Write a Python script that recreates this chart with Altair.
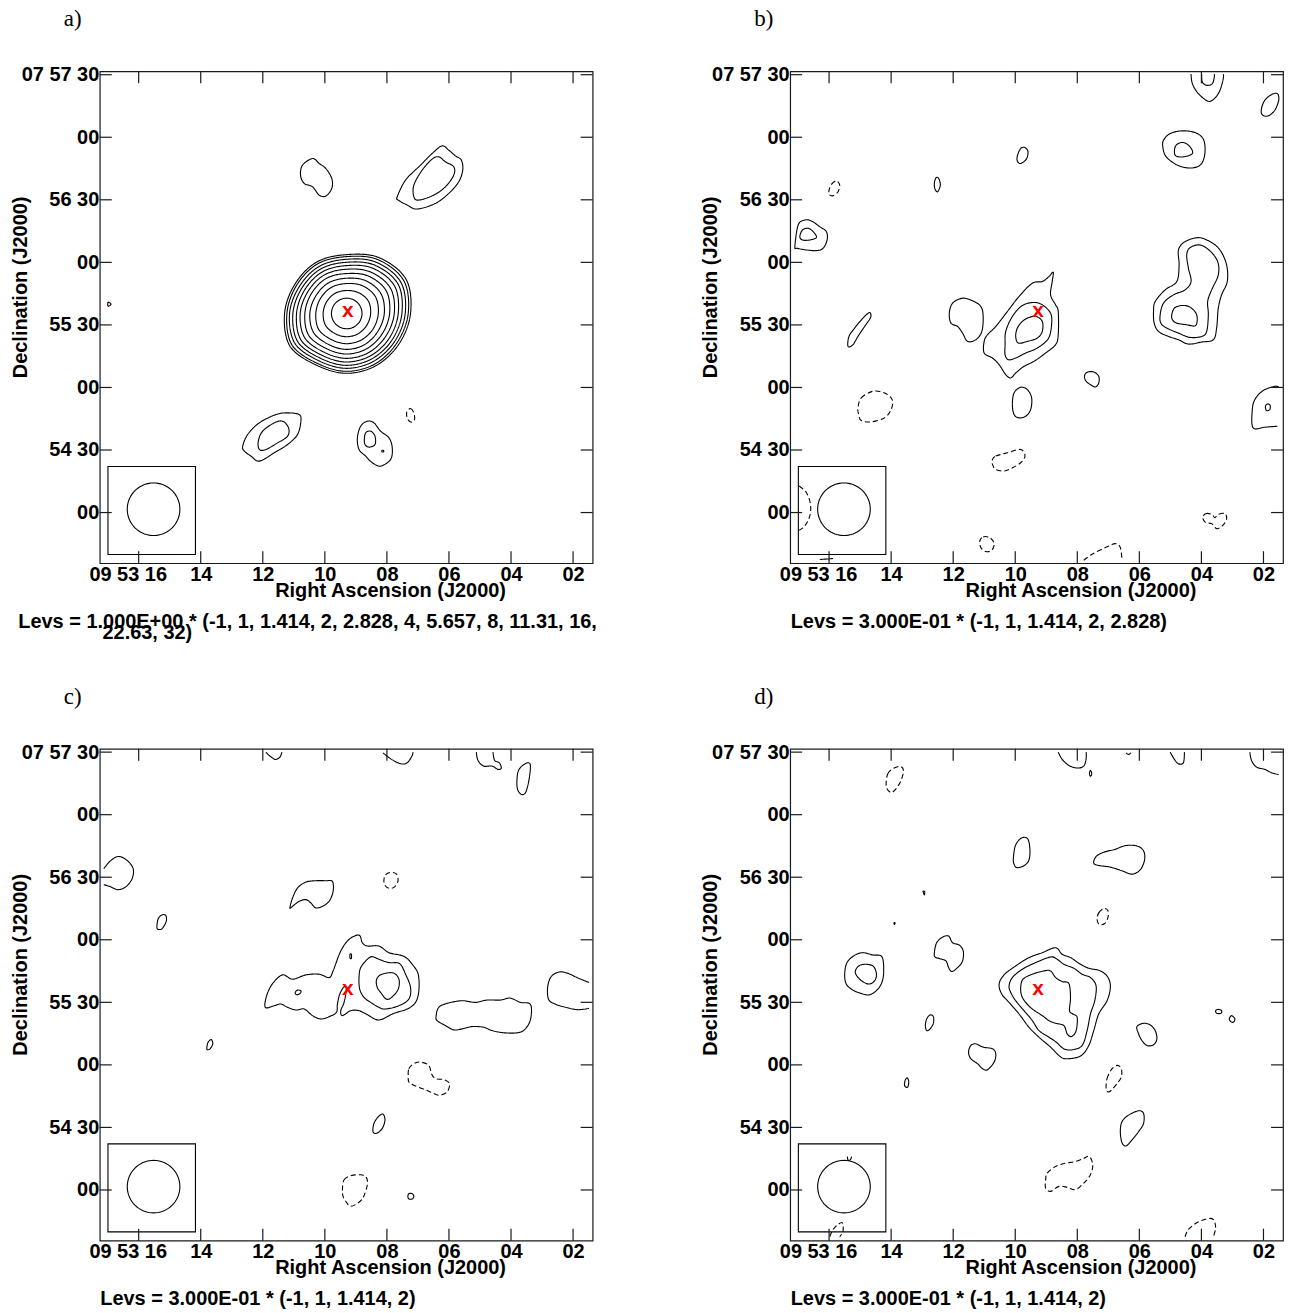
import altair as alt
import numpy as np
import pandas as pd

W, H = 494, 493
FONT = "Liberation Sans"

RA_TICKS = [16, 14, 12, 10, 8, 6, 4, 2]
RA_LABELS = ["09 53 16", "14", "12", "10", "08", "06", "04", "02"]
DEC_TICKS = [3450, 3420, 3390, 3360, 3330, 3300, 3270, 3240]
DEC_LABELS = ["07 57 30", "00", "56 30", "00", "55 30", "00", "54 30", "00"]
RA_DOMAIN = [17.254, 1.370]      # seconds of RA (09 53 xx), east to the left
DEC_DOMAIN = [3215.7, 3451.6]    # arcsec of Dec (07 xx xx)

PANELS = ["a", "b", "c", "d"]
TITLES = {"a": "a)", "b": "b)", "c": "c)", "d": "d)"}
LEVS = {
    "a": ["Levs = 1.000E+00 * (-1, 1, 1.414, 2, 2.828, 4, 5.657, 8, 11.31, 16,", "22.63, 32)"],
    "b": ["Levs = 3.000E-01 * (-1, 1, 1.414, 2, 2.828)"],
    "c": ["Levs = 3.000E-01 * (-1, 1, 1.414, 2)"],
    "d": ["Levs = 3.000E-01 * (-1, 1, 1.414, 2)"],
}
LEVS_X = {"a": [-81.7, 2.7], "b": [0.5], "c": [0.5], "d": [0.5]}

SOURCE_RA = [9.26]
SOURCE_DEC = [3336.0]

BEAM_RA, BEAM_DEC, BEAM_RADIUS = 15.52, 3241.6, 12.6   # beam centre, radius (arcsec)
BOX_RA = [16.99, 14.17]
BOX_DEC = [3219.9, 3262.1]

# map grid of each panel: (column at RA 16s, row at Dec 57'30", cells per RA second, cells per arcsec)
GRID = {"a": (127, 18, 93.36, 6.27), "b": (128, 18, 93.43, 6.27),
        "c": (127, 20, 93.36, 6.29), "d": (128, 20, 93.43, 6.29)}

# ---- contour paths in map cells (column, row) ----
A_CONTOURS = [
    ("pos", "closed", [(620,290),(650,270),(670,285),(690,300),(708,330),(708,360),(690,383),(670,380),(650,355),(625,345),(614,320)]),
    ("pos", "closed", [(905,385),(930,335),(975,290),(1010,255),(1040,232),(1060,245),(1080,262),(1098,275),(1102,305),(1090,340),(1060,375),(1020,405),(965,422),(935,410),(908,395)]),
    ("pos", "closed", [(955,350),(980,305),(1010,272),(1030,265),(1050,280),(1075,295),(1075,320),(1050,355),(1015,380),(970,395),(955,385)]),
    ("pos", "closed", [(440,1135),(455,1100),(490,1065),(540,1040),(575,1035),(610,1040),(615,1060),(605,1100),(575,1130),(535,1155),(490,1180),(465,1165),(445,1150)]),
    ("pos", "closed", [(487,1120),(500,1090),(535,1065),(560,1060),(578,1080),(575,1105),(545,1125),(510,1145),(490,1145)]),
    ("pos", "closed", [(785,1110),(795,1075),(815,1060),(835,1065),(855,1090),(880,1110),(890,1140),(885,1175),(855,1195),(830,1185),(810,1165),(790,1145)]),
    ("pos", "closed", [(806,1115),(810,1095),(825,1090),(838,1105),(838,1130),(820,1138),(808,1130)]),
    ("pos", "closed", [(859,1148),(864,1148),(864,1152),(859,1152)]),
    ("neg", "closed", [(935,1030),(945,1022),(955,1035),(957,1055),(948,1063),(937,1055),(933,1040)]),
    ("pos", "closed", [(35,702),(44,708),(35,714)]),
]
# nested rings of the bright source in panel a: radii (cells) at 0,30,...,330 deg
A_RING_CENTER = (753, 736)
A_RING_RADII = [
    [46, 46, 46, 46, 46, 46, 46, 46, 46, 46, 46, 46],
    [72, 75, 72, 69, 70, 70, 71, 73, 70, 70, 70, 70],
    [95, 100, 96, 90, 91, 91, 93, 97, 91, 91, 91, 92],
    [113, 119, 114, 106, 107, 107, 111, 115, 108, 108, 108, 108],
    [129, 137, 130, 120, 122, 122, 126, 132, 122, 122, 122, 123],
    [143, 152, 144, 133, 134, 134, 140, 146, 135, 135, 135, 136],
    [155, 166, 157, 144, 145, 145, 151, 159, 146, 146, 146, 148],
    [166, 178, 168, 154, 155, 155, 162, 170, 156, 156, 156, 158],
    [176, 188, 178, 163, 164, 164, 172, 180, 165, 165, 165, 167],
    [185, 198, 187, 171, 173, 173, 180, 190, 174, 174, 174, 175],
    [192, 206, 194, 177, 179, 179, 187, 197, 180, 180, 180, 182],
]
RING_ANGLES = [0, 30, 60, 90, 120, 150, 180, 210, 240, 270, 300, 330]

B_CONTOURS = [
    ("pos", "open", [(1218,16),(1222,45),(1240,75),(1270,98),(1290,88),(1305,65),(1315,30),(1315,16)]),
    ("pos", "open", [(1250,16),(1252,40),(1265,50),(1282,45),(1288,25),(1288,16)]),
    ("pos", "closed", [(1430,120),(1440,95),(1460,78),(1478,75),(1482,95),(1470,125),(1450,142),(1432,138)]),
    ("pos", "closed", [(1135,215),(1155,195),(1190,187),(1230,192),(1255,212),(1260,250),(1250,285),(1225,298),(1190,295),(1160,280),(1140,260),(1133,235)]),
    ("pos", "closed", [(1168,245),(1175,228),(1195,222),(1215,235),(1222,255),(1195,265),(1172,262)]),
    ("pos", "closed", [(695,262),(705,240),(718,237),(727,250),(722,272),(705,285),(695,278)]),
    ("pos", "closed", [(445,345),(450,328),(458,330),(463,350),(455,370),(447,362)]),
    ("neg", "closed", [(128,365),(135,348),(150,337),(160,350),(155,370),(140,382),(128,378)]),
    ("pos", "closed", [(25,535),(35,470),(55,455),(75,458),(100,475),(120,490),(122,515),(110,540),(90,547),(60,545),(32,540)]),
    ("pos", "closed", [(40,505),(48,485),(65,480),(80,490),(90,507),(70,515),(48,515)]),
    ("pos", "closed", [(185,835),(188,805),(205,780),(230,750),(250,733),(253,748),(235,775),(215,805),(200,830)]),
    ("pos", "closed", [(490,735),(500,705),(530,690),(560,698),(585,715),(592,745),(588,790),(570,815),(545,820),(530,795),(515,775),(495,765)]),
    ("pos", "closed", [(595,820),(605,800),(630,775),(665,730),(700,685),(740,645),(770,640),(790,625),(803,612),(800,640),(795,680),(810,710),(818,730),(818,800),(810,830),(780,855),(745,880),(715,895),(690,915),(675,930),(660,920),(640,890),(620,870),(595,855)]),
    ("pos", "closed", [(658,830),(660,790),(680,745),(710,712),(745,703),(770,710),(795,735),(798,770),(788,812),(755,840),(720,855),(690,870),(668,875),(658,860)]),
    ("pos", "closed", [(690,805),(695,780),(710,760),(730,748),(752,745),(770,760),(770,790),(755,810),(725,820),(698,825)]),
    ("pos", "closed", [(897,925),(905,913),(925,912),(940,925),(940,945),(930,957),(915,950),(902,940)]),
    ("pos", "closed", [(680,1010),(685,975),(705,958),(725,965),(738,990),(735,1025),(720,1045),(700,1050),(685,1040)]),
    ("pos", "closed", [(1105,730),(1110,700),(1140,665),(1175,640),(1182,590),(1180,545),(1200,520),(1240,508),(1275,520),(1305,545),(1325,590),(1327,640),(1310,680),(1300,720),(1295,780),(1285,815),(1250,822),(1210,828),(1180,815),(1150,805),(1120,790),(1107,765)]),
    ("pos", "closed", [(1125,740),(1135,705),(1165,680),(1200,665),(1218,640),(1210,600),(1205,560),(1215,538),(1245,530),(1275,548),(1298,580),(1300,620),(1280,665),(1268,700),(1270,740),(1265,790),(1250,805),(1215,808),(1180,795),(1145,780),(1127,765)]),
    ("pos", "closed", [(1160,740),(1168,720),(1190,712),(1215,717),(1235,740),(1232,772),(1205,770),(1175,765),(1162,755)]),
    ("pos", "open", [(1482,958),(1470,955),(1435,968),(1410,995),(1402,1030),(1405,1080),(1440,1078),(1478,1075)]),
    ("pos", "closed", [(1442,1015),(1448,1008),(1456,1012),(1455,1025),(1445,1028)]),
    ("neg", "closed", [(215,1020),(225,990),(260,970),(295,975),(318,995),(315,1025),(295,1050),(255,1062),(225,1058),(217,1040)]),
    ("neg", "closed", [(620,1175),(630,1165),(665,1155),(705,1145),(718,1165),(705,1185),(680,1200),(655,1210),(630,1205),(620,1190)]),
    ("neg", "open", [(38,1255),(60,1275),(72,1310),(70,1345),(55,1375),(38,1388)]),
    ("neg", "closed", [(582,1420),(592,1408),(612,1410),(625,1428),(618,1448),(600,1452),(585,1440)]),
    ("neg", "open", [(895,1478),(920,1460),(960,1440),(990,1428),(1005,1440),(1010,1478)]),
    ("neg", "closed", [(1253,1350),(1262,1338),(1280,1340),(1290,1350),(1300,1340),(1320,1338),(1325,1355),(1312,1375),(1295,1383),(1280,1368),(1262,1365)]),
    ("pos", "open", [(100,1476),(140,1473)]),
]

C_CONTOURS = [
    ("pos", "open", [(510,20),(522,32),(538,42),(552,35),(558,20)]),
    ("pos", "open", [(862,22),(885,40),(915,55),(935,52),(950,30),(952,20)]),
    ("pos", "open", [(1143,20),(1148,45),(1165,62),(1190,62),(1208,72),(1218,68),(1212,52),(1198,45),(1193,20)]),
    ("pos", "closed", [(1265,110),(1270,75),(1290,55),(1305,57),(1302,100),(1292,140),(1280,148),(1268,135)]),
    ("pos", "open", [(22,372),(40,350),(65,335),(90,345),(110,370),(108,400),(90,425),(65,435),(40,425),(22,420)]),
    ("pos", "closed", [(582,490),(590,460),(605,430),(630,412),(660,408),(690,408),(710,410),(712,440),(700,470),(680,485),(660,490),(645,475),(630,465),(610,470),(590,485)]),
    ("neg", "closed", [(865,405),(870,390),(885,383),(903,388),(907,410),(895,428),(878,430),(867,420)]),
    ("pos", "closed", [(182,550),(185,525),(195,512),(208,512),(210,530),(198,552),(188,555)]),
    ("pos", "closed", [(508,790),(512,755),(530,718),(560,692),(590,705),(630,692),(670,690),(700,700),(712,680),(735,620),(760,585),(790,572),(800,595),(815,605),(850,605),(880,625),(925,636),(950,660),(968,690),(970,740),(960,775),(935,795),(895,808),(850,828),(815,812),(790,800),(765,800),(740,815),(735,800),(745,775),(752,735),(745,728),(732,750),(725,780),(722,805),(700,818),(675,825),(650,815),(625,795),(600,798),(575,790),(555,780),(535,785)]),
    ("pos", "closed", [(790,700),(795,670),(815,645),(830,637),(850,645),(880,655),(912,658),(930,690),(945,730),(940,765),(910,785),(870,795),(850,790),(825,775),(805,760),(792,735)]),
    ("pos", "closed", [(842,710),(850,695),(870,687),(895,687),(910,705),(908,735),(888,760),(872,765),(855,745),(845,730)]),
    ("pos", "closed", [(598,745),(605,738),(615,740),(613,748),(602,752)]),
    ("pos", "closed", [(763,630),(767,630),(767,642),(763,642)]),
    ("pos", "closed", [(1022,815),(1030,790),(1055,778),(1100,770),(1140,775),(1175,768),(1215,768),(1245,762),(1275,775),(1305,780),(1308,815),(1298,845),(1275,865),(1230,867),(1190,860),(1165,850),(1130,848),(1100,855),(1075,858),(1050,845),(1025,830)]),
    ("pos", "open", [(1482,715),(1450,702),(1420,688),(1395,683),(1370,695),(1358,725),(1360,765),(1380,780),(1420,792),(1450,797),(1482,793)]),
    ("pos", "closed", [(332,915),(335,897),(345,887),(350,900),(342,915),(335,918)]),
    ("neg", "closed", [(938,1000),(940,975),(955,960),(975,955),(1000,965),(1008,990),(1020,1005),(1045,1008),(1062,1020),(1055,1045),(1030,1055),(1005,1045),(980,1035),(955,1025),(940,1015)]),
    ("pos", "closed", [(832,1165),(835,1140),(848,1120),(862,1112),(868,1130),(860,1155),(843,1170)]),
    ("neg", "closed", [(740,1340),(745,1310),(765,1298),(795,1295),(812,1303),(815,1325),(805,1358),(790,1378),(765,1390),(750,1375),(742,1360)]),
    ("pos", "closed", [(937,1360),(940,1352),(950,1352),(955,1360),(950,1368),(940,1368)]),
]

D_CONTOURS = [
    ("pos", "open", [(818,20),(830,42),(850,60),(875,68),(895,62),(902,40),(902,20)]),
    ("pos", "open", [(1022,22),(1030,27),(1037,22)]),
    ("pos", "closed", [(912,85),(915,75),(919,85),(915,93)]),
    ("pos", "open", [(1155,20),(1168,42),(1180,55),(1195,52),(1198,20)]),
    ("pos", "open", [(1395,20),(1400,45),(1415,65),(1440,72),(1460,82),(1482,88)]),
    ("neg", "closed", [(300,110),(305,85),(320,70),(342,63),(352,75),(345,105),(330,130),(315,142),(302,130)]),
    ("pos", "closed", [(683,340),(688,305),(700,285),(715,277),(728,285),(733,320),(728,350),(710,365),(692,368),(684,355)]),
    ("pos", "closed", [(925,355),(932,335),(955,322),(990,313),(1020,302),(1055,303),(1075,318),(1078,345),(1065,375),(1040,388),(1010,378),(975,367),(940,362)]),
    ("pos", "closed", [(411,440),(416,441),(415,451)]),
    ("pos", "closed", [(323,535),(327,535),(325,540)]),
    ("neg", "closed", [(935,525),(940,505),(955,492),(967,497),(968,518),(958,537),(942,540)]),
    ("pos", "closed", [(445,625),(452,595),(470,578),(488,575),(500,595),(520,602),(532,620),(530,650),(515,670),(498,682),(488,670),(480,650),(462,643),(447,638)]),
    ("pos", "closed", [(175,690),(182,655),(205,633),(230,625),(260,632),(285,635),(292,660),(290,705),(275,735),(250,752),(225,748),(200,738),(180,720)]),
    ("pos", "closed", [(207,685),(215,667),(235,660),(260,665),(270,685),(268,705),(255,718),(240,718),(220,705)]),
    ("pos", "closed", [(640,720),(655,692),(690,665),(730,640),(770,625),(810,610),(830,630),(855,640),(885,660),(910,672),(945,680),(968,700),(975,730),(965,770),(940,810),(925,860),(910,905),(885,937),(840,945),(820,935),(795,910),(760,880),(730,850),(700,810),(670,775),(648,750)]),
    ("pos", "closed", [(670,725),(680,700),(710,675),(750,655),(795,638),(815,645),(835,660),(865,672),(890,690),(915,700),(932,725),(928,770),(915,810),(905,860),(890,905),(860,918),(835,915),(812,895),(790,880),(760,860),(740,830),(715,800),(690,770),(675,745)]),
    ("pos", "closed", [(705,730),(712,705),(740,690),(775,680),(795,680),(810,700),(830,712),(850,718),(855,760),(852,800),(862,810),(875,820),(872,860),(858,878),(845,870),(835,845),(810,838),(790,830),(770,815),(740,795),(720,775),(708,755)]),
    ("pos", "closed", [(418,845),(422,825),(432,813),(442,818),(442,838),(432,855),(422,860)]),
    ("pos", "closed", [(548,925),(555,905),(570,900),(592,910),(620,915),(630,930),(625,955),(605,978),(590,975),(575,960),(555,945)]),
    ("pos", "closed", [(355,1022),(358,1008),(364,1003),(368,1015),(365,1030),(358,1030)]),
    ("pos", "closed", [(1292,800),(1300,796),(1310,800),(1308,808),(1295,808)]),
    ("pos", "closed", [(1333,825),(1340,815),(1350,825),(1345,835),(1337,832)]),
    ("pos", "closed", [(1055,848),(1075,838),(1095,843),(1110,860),(1115,885),(1105,903),(1085,905),(1070,890),(1060,870)]),
    ("neg", "closed", [(962,1035),(965,1005),(978,978),(995,965),(1008,975),(1008,1000),(995,1020),(978,1040),(968,1045)]),
    ("pos", "closed", [(1005,1165),(1010,1135),(1030,1115),(1060,1102),(1075,1110),(1075,1140),(1060,1165),(1040,1190),(1022,1208),(1010,1198)]),
    ("neg", "closed", [(780,1310),(785,1290),(810,1270),(840,1260),(870,1255),(895,1245),(912,1240),(922,1265),(915,1295),(895,1320),(870,1340),(845,1333),(820,1330),(795,1345),(780,1335)]),
    ("neg", "open", [(1200,1482),(1210,1460),(1235,1440),(1265,1428),(1285,1430),(1292,1455),(1285,1482)]),
    ("neg", "open", [(130,1482),(140,1460),(155,1445),(168,1440),(170,1465),(160,1482)]),
    ("pos", "open", [(183,1240),(185,1250),(192,1250),(196,1240)]),
]

CONTOURS = {"a": A_CONTOURS, "b": B_CONTOURS, "c": C_CONTOURS, "d": D_CONTOURS}


def to_sky(panel, col, row):
    c0, r0, cps, cpa = GRID[panel]
    return 16 - (col - c0) / cps, 3450 - (row - r0) / cpa


rows = []
cid = 0
for p in PANELS:
    paths = list(CONTOURS[p])
    if p == "a":
        cx, cy = A_RING_CENTER
        for radii in A_RING_RADII:
            pts = [(cx + r * np.cos(np.radians(t)), cy - r * np.sin(np.radians(t)))
                   for r, t in zip(radii, RING_ANGLES)]
            paths.append(("pos", "closed", pts))
    for sign, shape, pts in paths:
        for k, (c, r) in enumerate(pts):
            ra, dec = to_sky(p, c, r)
            rows.append({"panel": p, "cid": cid, "k": k, "ra": ra, "dec": dec,
                         "sign": sign, "shape": shape})
        cid += 1
contours = pd.DataFrame(rows)

# beam (circular) outline
ARCSEC_PER_S = 15 * np.cos(np.radians(7.93))
ang = np.linspace(0, 2 * np.pi, 73)[:-1]
beam_df = pd.DataFrame({
    "ra": BEAM_RA + BEAM_RADIUS * np.cos(ang) / ARCSEC_PER_S,
    "dec": BEAM_DEC + BEAM_RADIUS * np.sin(ang),
    "k": np.arange(len(ang)),
})
box_df = pd.DataFrame({"ra": [BOX_RA[0]], "ra2": [BOX_RA[1]],
                       "dec": [BOX_DEC[0]], "dec2": [BOX_DEC[1]]})
src_df = pd.DataFrame({"ra": SOURCE_RA, "dec": SOURCE_DEC})
ra_ticks_df = pd.DataFrame({"ra": RA_TICKS})
dec_ticks_df = pd.DataFrame({"dec": DEC_TICKS})


def label_expr(values, labels):
    expr = "''"
    for v, l in zip(values, labels):
        expr = f"datum.value == {v} ? '{l}' : ({expr})"
    return expr


xs = alt.Scale(domain=RA_DOMAIN, zero=False, nice=False)
ys = alt.Scale(domain=DEC_DOMAIN, zero=False, nice=False)
x_axis = alt.Axis(
    values=RA_TICKS, labelExpr=label_expr(RA_TICKS, RA_LABELS), ticks=False,
    domain=False, grid=False, labelFont=FONT, labelFontSize=20, labelFontWeight="bold",
    labelColor="black", labelPadding=1, labelBaseline="top", labelFlush=False,
    labelOverlap=False, labelBound=False,
    labelOffset={"condition": {"test": "datum.value == 16", "value": -11}, "value": 0},
    title="Right Ascension (J2000)", titleFont=FONT, titleFontSize=20,
    titleFontWeight="bold", titleColor="black", titleX=W / 2 + 44, titleY=33,
    titleBaseline="alphabetic", titleAlign="center")
y_axis = alt.Axis(
    values=DEC_TICKS, labelExpr=label_expr(DEC_TICKS, DEC_LABELS), ticks=False,
    domain=False, grid=False, labelFont=FONT, labelFontSize=20, labelFontWeight="bold",
    labelColor="black", labelPadding=1, labelBaseline="middle", labelFlush=False,
    labelOverlap=False, labelBound=False,
    title="Declination (J2000)", titleFont=FONT, titleFontSize=20,
    titleFontWeight="bold", titleColor="black", titleX=-79.5, titleY=216,
    titleAngle=270, titleAlign="center", titleBaseline="middle")
X = alt.X("ra:Q", scale=xs, axis=x_axis)
Y = alt.Y("dec:Q", scale=ys, axis=y_axis)
dash = alt.StrokeDash("sign:N", scale=alt.Scale(domain=["pos", "neg"], range=[[1, 0], [5, 3]]),
                      legend=None)
TICK = 12
INK = "#1a1a1a"


def panel_chart(p):
    df = contours[contours["panel"] == p]
    layers = []
    for shape, interp in [("closed", "cardinal-closed"), ("open", "cardinal")]:
        sub = df[df["shape"] == shape]
        if len(sub):
            layers.append(alt.Chart(sub).mark_line(
                interpolate=interp, clip=True, color="black", strokeWidth=1.1
            ).encode(x=X, y=Y, detail="cid:N", order="k:Q", strokeDash=dash))
    layers.append(alt.Chart(box_df).mark_rect(fillOpacity=0, stroke="black", strokeWidth=1.1)
                  .encode(x=X, x2="ra2:Q", y=Y, y2="dec2:Q"))
    layers.append(alt.Chart(beam_df).mark_line(interpolate="linear-closed", color="black",
                                               strokeWidth=1.1)
                  .encode(x=X, y=Y, order="k:Q"))
    layers.append(alt.Chart(src_df).mark_text(text="x", color="red", font=FONT,
                                              fontWeight="bold", fontSize=21,
                                              baseline="alphabetic", dy=5)
                  .encode(x=X, y=Y))
    # inward ticks on all four sides
    layers.append(alt.Chart(ra_ticks_df).mark_rule(color=INK, strokeWidth=1.2)
                  .encode(x=X, y=alt.value(H), y2=alt.value(H - TICK)))
    layers.append(alt.Chart(ra_ticks_df).mark_rule(color=INK, strokeWidth=1.2)
                  .encode(x=X, y=alt.value(0), y2=alt.value(TICK)))
    layers.append(alt.Chart(dec_ticks_df).mark_rule(color=INK, strokeWidth=1.2)
                  .encode(y=Y, x=alt.value(0), x2=alt.value(TICK)))
    layers.append(alt.Chart(dec_ticks_df).mark_rule(color=INK, strokeWidth=1.2)
                  .encode(y=Y, x=alt.value(W - TICK), x2=alt.value(W)))
    for i, (line, lx) in enumerate(zip(LEVS[p], LEVS_X[p])):
        layers.append(alt.Chart(pd.DataFrame({"t": [line]})).mark_text(
            align="left", baseline="alphabetic", font=FONT, fontSize=20,
            fontWeight="bold", color="black"
        ).encode(x=alt.value(lx), y=alt.value(H + 65 + 11 * i), text="t:N"))
    return alt.layer(*layers).properties(
        width=W, height=H,
        title=alt.TitleParams(text=TITLES[p], font="Liberation Serif", fontSize=23,
                              fontWeight="normal", color="black", anchor="start",
                              frame="group", dx=-36, offset=15.4, baseline="alphabetic"))


chart = alt.concat(*[panel_chart(p) for p in PANELS], columns=2,
                   spacing={"row": 186, "column": 198}, bounds="flush").properties(
    padding={"left": 9, "top": 6, "right": 4, "bottom": 4}
).configure(background="white").configure_view(stroke=INK, strokeWidth=1.2)

chart.save("out.html", embed_options={"renderer": "svg", "actions": False})
